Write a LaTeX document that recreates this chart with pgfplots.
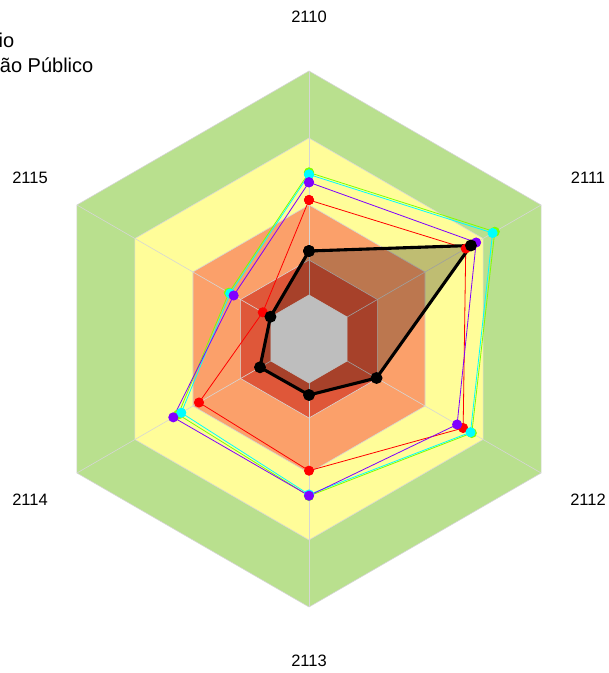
\documentclass[border=0pt]{standalone}
\usepackage{pgfplots}
\pgfplotsset{compat=1.18}
\usepackage{fontspec}
\setmainfont{Liberation Sans}
\definecolor{bandgreen}{HTML}{B9E08E}
\definecolor{bandyellow}{HTML}{FFFD99}
\definecolor{bandorange}{HTML}{FBA06A}
\definecolor{bandred}{HTML}{DF5739}
\definecolor{bandgrey}{HTML}{BEBEBE}
\definecolor{gridgrey}{HTML}{D6D6D6}
\definecolor{rbred}{HTML}{FF0000}
\definecolor{rbgreen}{HTML}{80FF00}
\definecolor{rbcyan}{HTML}{00FFFF}
\definecolor{rbviolet}{HTML}{8000FF}
\begin{document}
\begin{tikzpicture}
\begin{axis}[
  scale only axis, width=609pt, height=673pt,
  xmin=-309, xmax=300, ymin=-334, ymax=339,
  hide axis, clip=false,
  band/.style={data cs=polar, draw=gridgrey, line width=0.6pt, forget plot},
  series/.style={data cs=polar, line width=0.8pt, mark=*, mark size=4.6pt,
     mark options={draw=none, fill=#1}, color=#1},
]
\coordinate (SW) at (axis cs:-309,-334);
\coordinate (NE) at (axis cs:300,339);
% bands (angle, radius)
\addplot[band, fill=bandgreen] coordinates {(90,268) (30,268) (-30,268) (-90,268) (-150,268) (150,268) (90,268)};
\addplot[band, fill=bandyellow] coordinates {(90,201) (30,201) (-30,201) (-90,201) (-150,201) (150,201) (90,201)};
\addplot[band, fill=bandorange] coordinates {(90,134) (30,134) (-30,134) (-90,134) (-150,134) (150,134) (90,134)};
\addplot[band, fill=bandred] coordinates {(90,79) (30,79) (-30,79) (-90,79) (-150,79) (150,79) (90,79)};
% spokes
\addplot[band] coordinates {(90,268) (-90,268)};
\addplot[band] coordinates {(30,268) (-150,268)};
\addplot[band] coordinates {(-30,268) (150,268)};
% series
\addplot[series=rbred] coordinates {(90,139) (30,181) (-30,178) (-90,131.7) (-150,127) (150,53.4) (90,139)};
\addplot[series=rbgreen] coordinates {(90,166.5) (30,214.5) (-30,188) (-90,157) (-150,151) (150,92.5) (90,166.5)};
\addplot[series=rbcyan] coordinates {(90,164.5) (30,212) (-30,186.5) (-90,155.5) (-150,147.5) (150,91) (90,164.5)};
\addplot[series=rbviolet] coordinates {(90,156.7) (30,193) (-30,171) (-90,156.7) (-150,156.7) (150,87) (90,156.7)};
% black series: translucent fill
\addplot[data cs=polar, draw=none, fill=black, fill opacity=0.25, forget plot]
  coordinates {(90,88) (30,187) (-30,78) (-90,56) (-150,56.6) (150,44.5) (90,88)};
% grey centre
\addplot[band, fill=bandgrey, draw=bandgrey] coordinates {(90,44) (30,44) (-30,44) (-90,44) (-150,44) (150,44) (90,44)};
% black series: outline and points
\addplot[data cs=polar, black, line width=3.1pt,
  mark=*, mark size=4.3pt, mark options={fill=black, draw=none}]
  coordinates {(90,88) (30,187) (-30,78) (-90,56) (-150,56.6) (150,44.5) (90,88)};
% axis labels
\node[font=\fontsize{16.5}{19}\selectfont] at (axis cs:0,322) {2110};
\node[font=\fontsize{16.5}{19}\selectfont] at (axis cs:279,161) {2111};
\node[font=\fontsize{16.5}{19}\selectfont] at (axis cs:279,-161) {2112};
\node[font=\fontsize{16.5}{19}\selectfont] at (axis cs:0,-322) {2113};
\node[font=\fontsize{16.5}{19}\selectfont] at (axis cs:-279,-161) {2114};
\node[font=\fontsize{16.5}{19}\selectfont] at (axis cs:-279,161) {2115};
% legend text (cut at left edge, as in the reference)
\node[font=\fontsize{20}{23}\selectfont, anchor=base east, inner sep=0pt] at (axis cs:-294.5,291) {Município};
\node[font=\fontsize{20}{23}\selectfont, anchor=base east, inner sep=0pt] at (axis cs:-215.5,266) {Gestão Público};
\end{axis}
\pgfresetboundingbox
\useasboundingbox (SW) rectangle (NE);
\end{tikzpicture}
\end{document}
